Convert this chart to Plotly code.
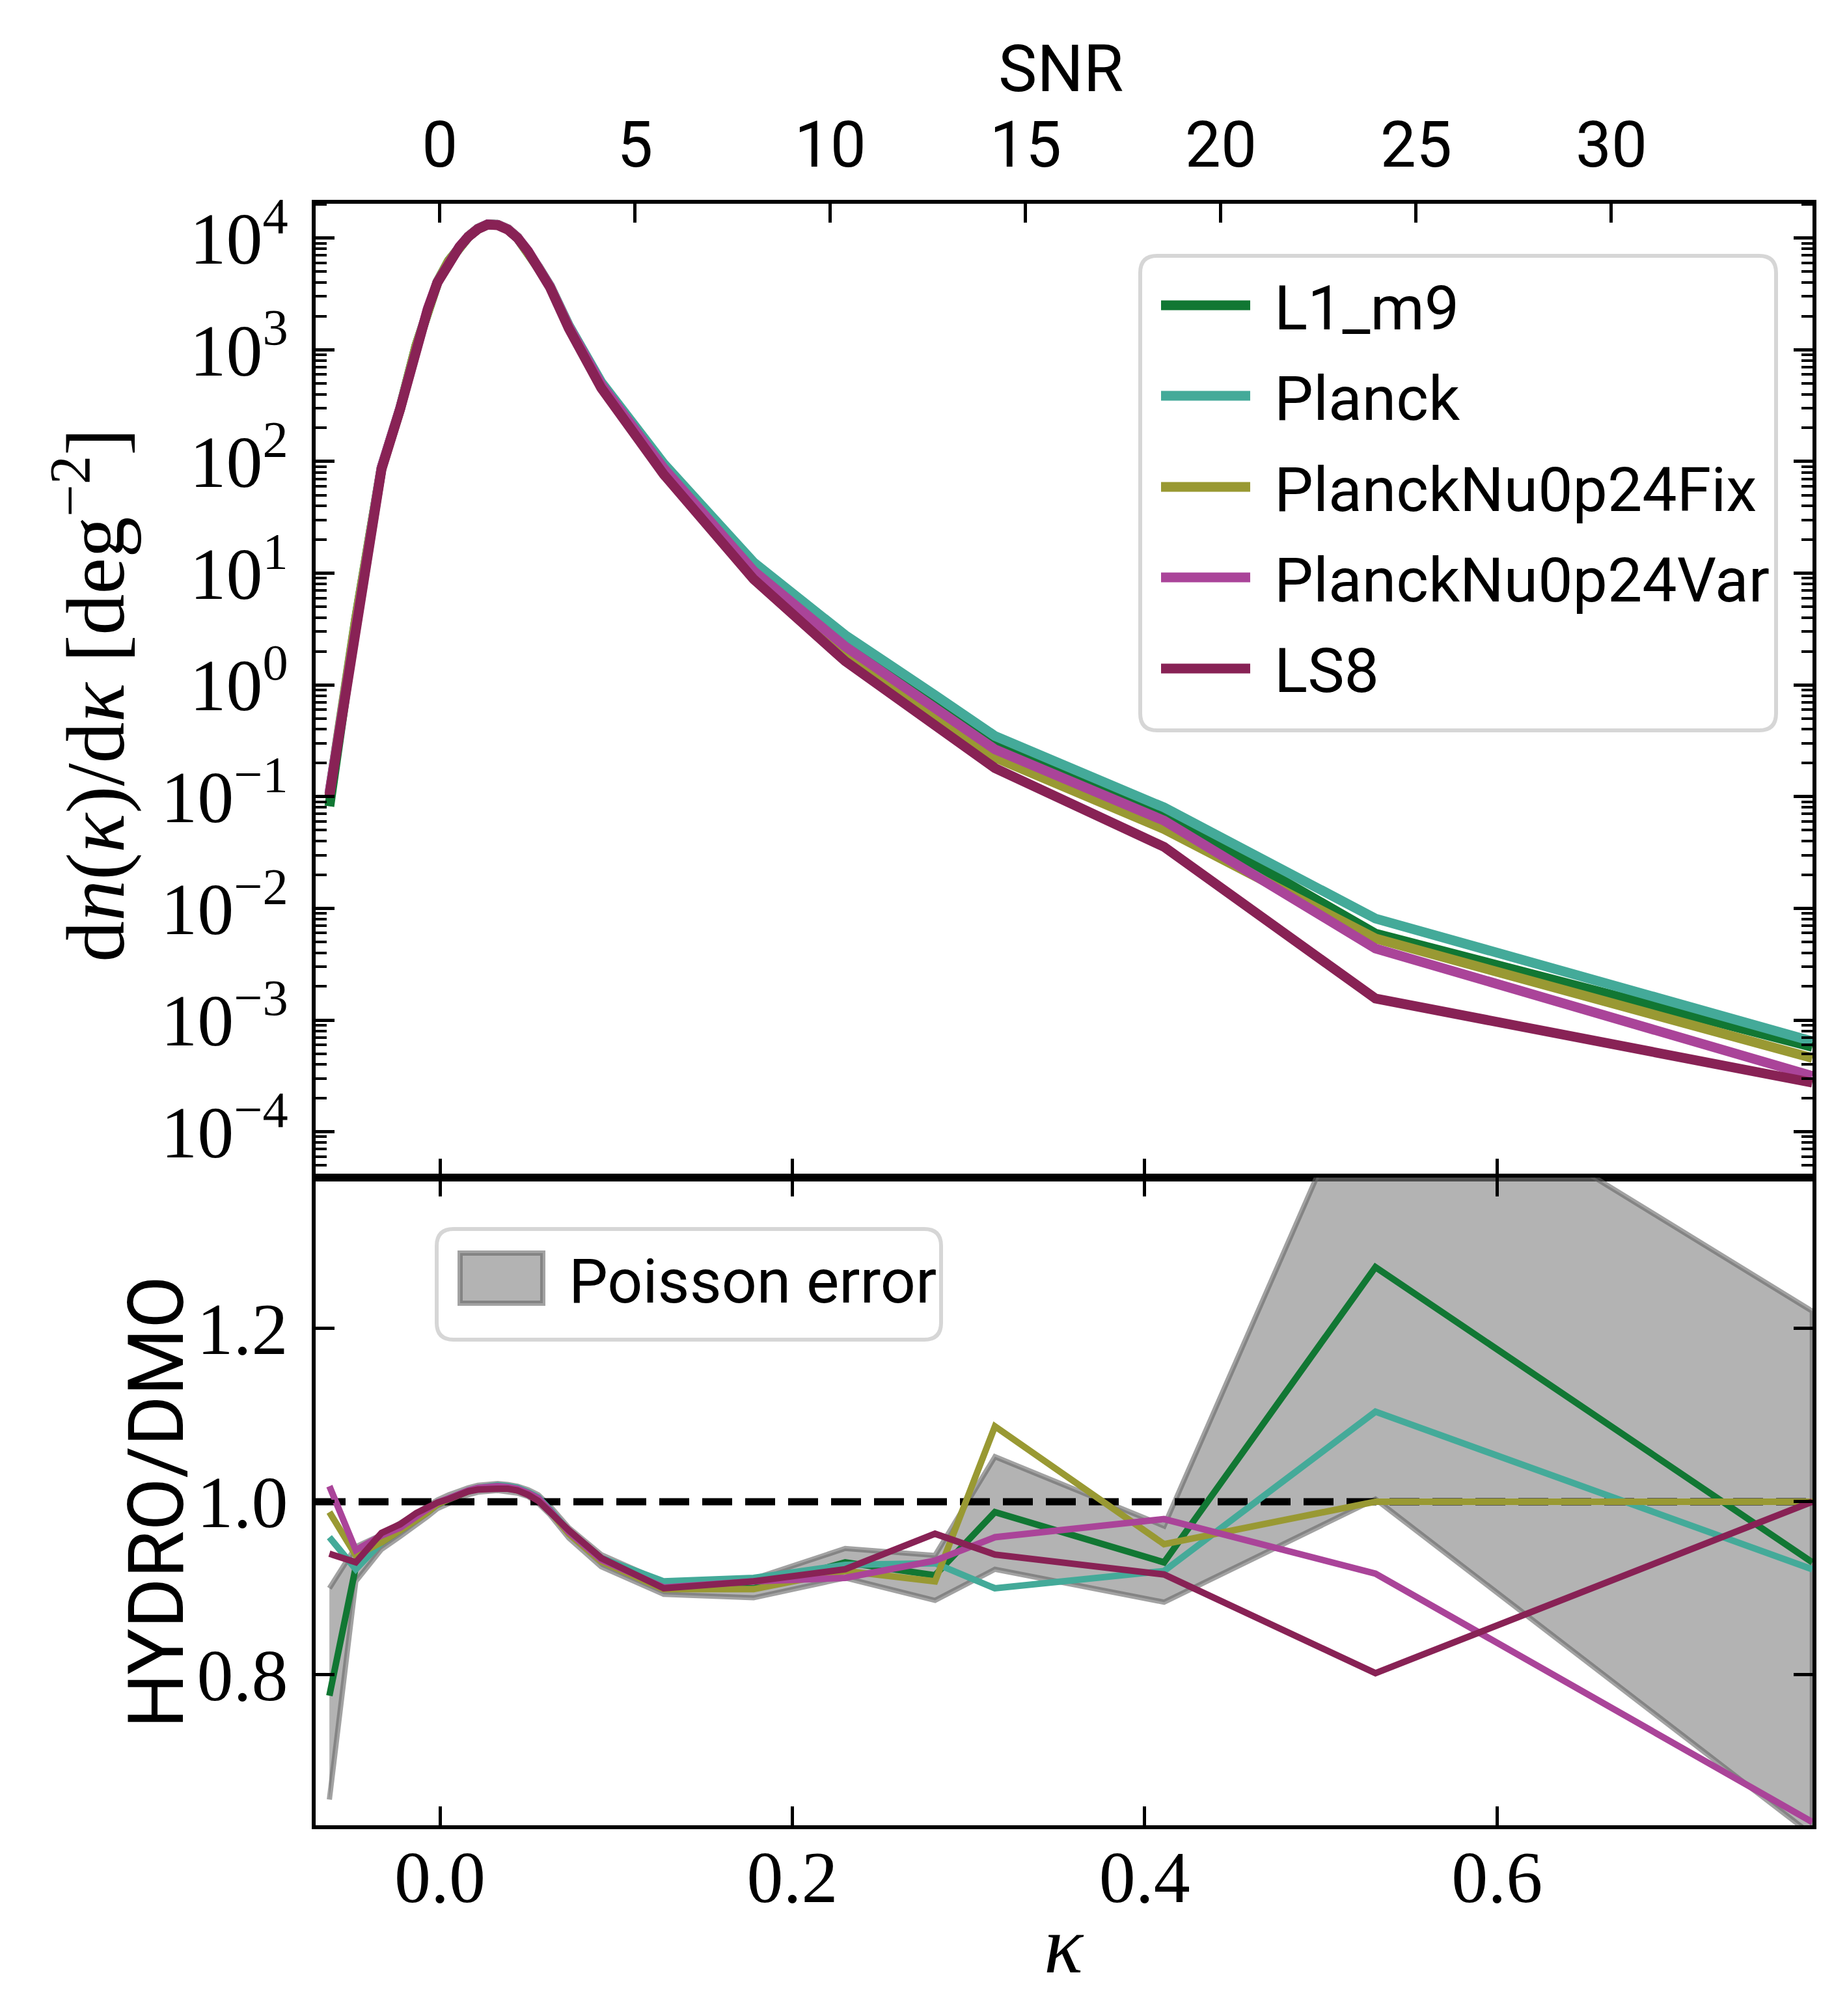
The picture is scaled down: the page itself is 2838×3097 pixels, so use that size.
import plotly.graph_objects as go

# kappa bin centres
kappa = [-0.0628, -0.0478, -0.0332, -0.0226, -0.0134, -0.0070, -0.0015, 0.0050, 0.0110, 0.0160, 0.0215,
         0.0270, 0.0328, 0.0385, 0.0440, 0.0500, 0.0558, 0.0624, 0.0731, 0.0915, 0.127, 0.178, 0.230,
         0.281, 0.315, 0.411, 0.531, 0.779]

# peak counts dn/dkappa [deg^-2]
pc_l1_m9 = [0.082, 3.7, 87, 298, 1085, 2310, 4010, 6210, 8370, 10290, 12090, 13250, 13110, 11980, 10080,
            7660, 5450, 3700, 1630, 500, 91, 11.7, 2.5, 0.74, 0.316, 0.0724, 0.00594, 0.000575]
pc_planck = [0.106, 3.8, 88, 300, 1090, 2320, 4020, 6220, 8380, 10300, 12100, 13270, 13130, 12000, 10100,
             7680, 5470, 3720, 1650, 513, 95.5, 12.5, 2.79, 0.81, 0.349, 0.080, 0.0081, 0.000646]
pc_fix = [0.104, 3.75, 87, 298, 1085, 2310, 4010, 6210, 8370, 10290, 12090, 13250, 13110, 11980, 10080,
          7650, 5440, 3680, 1600, 479, 83, 9.8, 1.82, 0.50, 0.224, 0.0513, 0.00537, 0.000457]
pc_var = [0.107, 3.75, 88, 300, 1090, 2320, 4020, 6220, 8380, 10300, 12100, 13260, 13120, 11990, 10090,
          7660, 5450, 3690, 1610, 490, 87, 10.5, 2.21, 0.63, 0.265, 0.061, 0.00437, 0.000316]
pc_ls8 = [0.100, 3.5, 85, 295, 1070, 2290, 3980, 6170, 8320, 10230, 12020, 13180, 13030, 11890, 10000,
          7590, 5370, 3620, 1550, 455, 76.6, 8.85, 1.63, 0.44, 0.18, 0.0355, 0.00156, 0.000275]

# HYDRO/DMO ratios
r_l1_m9 = [0.776, 0.925, 0.953, 0.967, 0.979, 0.988, 0.997, 1.003, 1.009, 1.012, 1.015, 1.016, 1.017, 1.016,
           1.014, 1.010, 1.003, 0.990, 0.964, 0.932, 0.900, 0.900, 0.930, 0.915, 0.988, 0.930, 1.271, 0.930]
r_planck = [0.959, 0.922, 0.953, 0.967, 0.980, 0.989, 0.998, 1.004, 1.010, 1.013, 1.016, 1.018, 1.019, 1.018,
            1.016, 1.011, 1.005, 0.991, 0.966, 0.935, 0.908, 0.912, 0.927, 0.929, 0.900, 0.920, 1.104, 0.922]
r_fix = [0.988, 0.938, 0.953, 0.966, 0.979, 0.988, 0.997, 1.003, 1.009, 1.012, 1.015, 1.016, 1.017, 1.016,
         1.014, 1.010, 1.003, 0.989, 0.963, 0.931, 0.899, 0.899, 0.920, 0.908, 1.087, 0.951, 1.000, 1.000]
r_var = [1.018, 0.944, 0.961, 0.970, 0.983, 0.991, 0.999, 1.004, 1.010, 1.013, 1.016, 1.017, 1.018, 1.017,
         1.015, 1.010, 1.004, 0.990, 0.965, 0.933, 0.901, 0.908, 0.912, 0.932, 0.959, 0.980, 0.917, 0.630]
r_ls8 = [0.940, 0.930, 0.964, 0.974, 0.987, 0.993, 0.999, 1.003, 1.009, 1.012, 1.014, 1.015, 1.015, 1.015,
         1.013, 1.008, 1.001, 0.988, 0.967, 0.935, 0.900, 0.908, 0.922, 0.963, 0.939, 0.916, 0.802, 1.000]

# Poisson error band (around L1_m9)
err_hi = [0.900, 0.948, 0.962, 0.975, 0.986, 0.994, 1.002, 1.008, 1.013, 1.016, 1.019, 1.020, 1.021, 1.020,
          1.018, 1.014, 1.008, 0.995, 0.970, 0.939, 0.907, 0.911, 0.946, 0.938, 1.052, 0.972, 1.530, 1.220]
err_lo = [0.656, 0.908, 0.945, 0.960, 0.973, 0.983, 0.992, 0.998, 1.005, 1.008, 1.011, 1.012, 1.013, 1.012,
          1.010, 1.006, 0.998, 0.985, 0.958, 0.925, 0.893, 0.889, 0.912, 0.886, 0.922, 0.884, 1.003, 0.615]

names = ["L1_m9", "Planck", "PlanckNu0p24Fix", "PlanckNu0p24Var", "LS8"]
colors = ["#117733", "#44AA99", "#999933", "#AA4499", "#882255"]
top_series = [pc_l1_m9, pc_planck, pc_fix, pc_var, pc_ls8]
ratio_series = [r_l1_m9, r_planck, r_fix, r_var, r_ls8]

X_RANGE = [-0.0706, 0.7791]
SNR_RANGE = [-3.18, 35.15]
Y_TOP_RANGE = [-4.41, 4.307]
Y_BOT_RANGE = [0.6263, 1.3744]
SNR_TICKS = [0, 5, 10, 15, 20, 25, 30]
K_TICKS = [0.0, 0.2, 0.4, 0.6]
RATIO_TICKS = [0.8, 1.0, 1.2]

SERIF = "Liberation Serif"
SANS = "Roboto"

# figure geometry in screen pixels
W, H = 2838, 3097
L, R, T, B = 477, 2777, 305, 2796
MID = 1801


def px(x):
    return (x - L) / (R - L)


def py(y):
    return (B - y) / (B - T)


def rounded_box(x0, y0, x1, y1, r):
    pts = [("M", x0 + r, y0), ("L", x1 - r, y0), ("Q", x1, y0, x1, y0 + r), ("L", x1, y1 - r),
           ("Q", x1, y1, x1 - r, y1), ("L", x0 + r, y1), ("Q", x0, y1, x0, y1 - r), ("L", x0, y0 + r),
           ("Q", x0, y0, x0 + r, y0)]
    out = ""
    for p in pts:
        cmd = p[0]
        coords = p[1:]
        s = []
        for i in range(0, len(coords), 2):
            s.append("%.5f,%.5f" % (px(coords[i]), py(coords[i + 1])))
        out += cmd + " ".join(s) + " "
    return out + "Z"


fig = go.Figure()

# top panel
for name, col, vals in zip(names, colors, top_series):
    fig.add_trace(go.Scatter(x=kappa, y=vals, mode="lines", name=name,
                             line=dict(color=col, width=15), xaxis="x", yaxis="y", showlegend=False))

# bottom panel: Poisson band, reference line, ratios
fig.add_trace(go.Scatter(x=kappa + kappa[::-1], y=err_hi + err_lo[::-1], fill="toself",
                         fillcolor="rgba(128,128,128,0.6)", mode="lines",
                         line=dict(color="rgba(100,100,100,0.6)", width=8),
                         xaxis="x2", yaxis="y2", showlegend=False))
fig.add_trace(go.Scatter(x=X_RANGE, y=[1.0, 1.0], mode="lines",
                         line=dict(color="black", width=11, dash="46px,20px"),
                         xaxis="x2", yaxis="y2", showlegend=False))
for name, col, vals in zip(names, colors, ratio_series):
    fig.add_trace(go.Scatter(x=kappa, y=vals, mode="lines", name=name,
                             line=dict(color=col, width=10), xaxis="x2", yaxis="y2", showlegend=False))

split = py(MID)
axis_common = dict(showgrid=False, zeroline=False, showline=True, linecolor="black", linewidth=6,
                   ticks="inside", ticklen=29, tickwidth=5, tickcolor="black")

minor_vals = [m * 10.0 ** e for e in range(-5, 5) for m in range(2, 10)]
top_tickvals = [10.0 ** e for e in range(-4, 5)]
top_ticktext = ["10<sup>%s</sup>" % (str(e).replace("-", "\u2212")) for e in range(-4, 5)]

fig.update_layout(
    width=W, height=H,
    margin=dict(l=L, r=W - R, t=T, b=H - B, pad=0),
    paper_bgcolor="white", plot_bgcolor="white",
    font=dict(family=SERIF, size=112, color="black"),
    xaxis=dict(domain=[0, 1], anchor="y", range=X_RANGE, tickvals=K_TICKS, showticklabels=False,
               mirror=False, **axis_common),
    yaxis=dict(domain=[split, 1], anchor="x", type="log", range=Y_TOP_RANGE, tickvals=top_tickvals,
               ticktext=top_ticktext, mirror="ticks", ticklabelstandoff=14,
               minor=dict(tickmode="array", tickvals=minor_vals, ticks="inside", ticklen=17,
                          tickwidth=4, tickcolor="black"),
               **axis_common),
    xaxis3=dict(overlaying="x", anchor="y", side="top", range=SNR_RANGE, tickvals=SNR_TICKS,
                ticktext=[str(v) for v in SNR_TICKS], tickfont=dict(family=SANS, size=98),
                ticklabelstandoff=12, **axis_common),
    xaxis2=dict(domain=[0, 1], anchor="y2", range=X_RANGE, tickvals=K_TICKS,
                ticktext=["%.1f" % v for v in K_TICKS], mirror="ticks", ticklabelstandoff=-22,
                **axis_common),
    yaxis2=dict(domain=[0, split], anchor="x2", range=Y_BOT_RANGE, tickvals=RATIO_TICKS,
                ticktext=["%.1f" % v for v in RATIO_TICKS], mirror="ticks", ticklabelstandoff=14,
                **axis_common),
)

# dummy anchor so the SNR axis is drawn
fig.add_trace(go.Scatter(x=[], y=[], xaxis="x3", yaxis="y", showlegend=False, hoverinfo="skip"))

shapes = []
annotations = []

# main legend (drawn by hand to match the long line samples)
shapes.append(dict(type="path", xref="paper", yref="paper", path=rounded_box(1744, 385, 2721, 1114, 26),
                   line=dict(color="#d6d6d6", width=6), fillcolor="white", layer="above"))
leg_y = [461, 600, 740, 879, 1019]
for name, col, yy in zip(names, colors, leg_y):
    shapes.append(dict(type="line", xref="paper", yref="paper", x0=px(1776), x1=px(1913), y0=py(yy), y1=py(yy),
                       line=dict(color=col, width=15), layer="above"))
    annotations.append(dict(text=name, xref="paper", yref="paper", x=px(1948), y=py(yy + 4), xanchor="left",
                            yanchor="middle", showarrow=False, font=dict(family=SANS, size=95, color="black")))

# Poisson error legend
shapes.append(dict(type="path", xref="paper", yref="paper", path=rounded_box(663, 1880, 1438, 2050, 26),
                   line=dict(color="#d6d6d6", width=6), fillcolor="white", layer="above"))
shapes.append(dict(type="rect", xref="paper", yref="paper", x0=px(699), x1=px(826), y0=py(1917), y1=py(1994),
                   fillcolor="rgba(128,128,128,0.6)", line=dict(color="rgba(100,100,100,0.6)", width=8),
                   layer="above"))
annotations.append(dict(text="Poisson error", xref="paper", yref="paper", x=px(864), y=py(1960),
                        xanchor="left", yanchor="middle", showarrow=False,
                        font=dict(family=SANS, size=95, color="black")))

# axis titles
annotations.append(dict(text="SNR", xref="paper", yref="paper", x=px(1622), y=py(98), xanchor="center",
                        yanchor="middle", showarrow=False, font=dict(family=SANS, size=100)))
annotations.append(dict(text="<i>\u03ba</i>", xref="paper", yref="paper", x=px(1627), y=py(2980),
                        xanchor="center", yanchor="middle", showarrow=False, font=dict(family=SERIF, size=125)))
annotations.append(dict(text="d<i>n</i>(<i>\u03ba</i>)/d<i>\u03ba</i> [deg<sup>\u22122</sup>]", xref="paper",
                        yref="paper", x=px(130), y=py(1060), xanchor="center", yanchor="middle",
                        textangle=-90, showarrow=False, font=dict(family=SERIF, size=126)))
annotations.append(dict(text="HYDRO/DMO", xref="paper", yref="paper", x=px(233), y=py(2300), xanchor="center",
                        yanchor="middle", textangle=-90, showarrow=False, font=dict(family=SANS, size=118)))

fig.update_layout(shapes=shapes, annotations=annotations)

fig.write_html("out.html")
